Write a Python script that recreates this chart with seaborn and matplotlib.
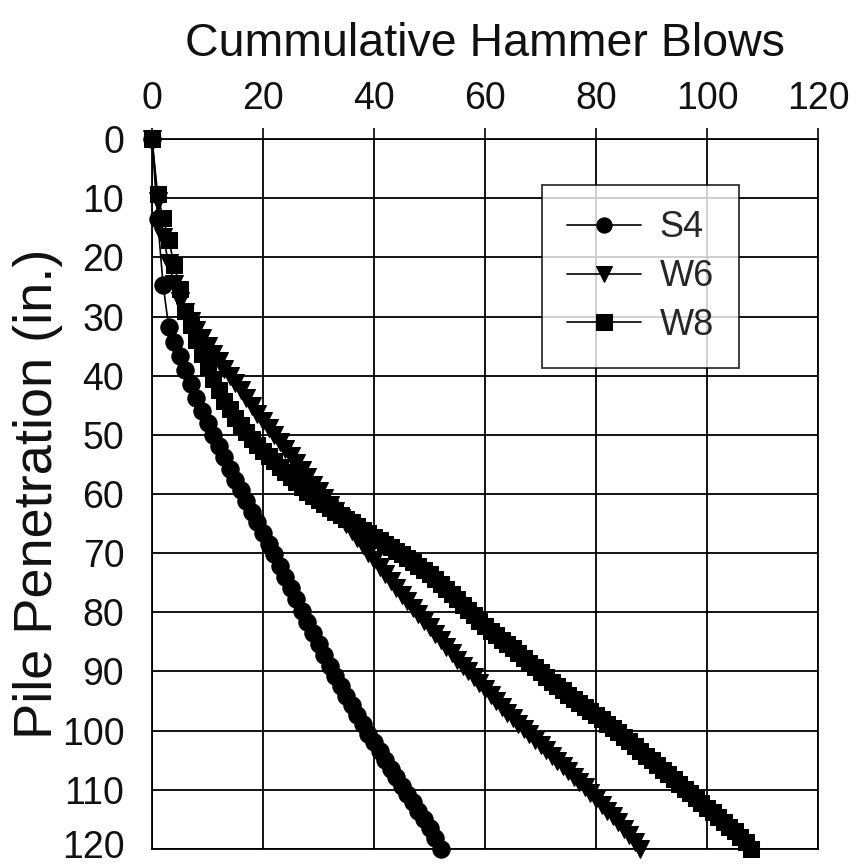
import numpy as np
import pandas as pd
import matplotlib
matplotlib.use("Agg")
import matplotlib.pyplot as plt
import matplotlib.transforms as mtransforms
import seaborn as sns

# ---- data: penetration (in.) after each cumulative hammer blow ----
s4_depth = [0, 13.5, 24.7, 31.7, 34.3, 36.6, 39.0, 41.4, 43.7, 45.9, 48.0, 50.0,
            51.9, 53.8, 55.7, 57.6, 59.4, 61.2, 63.0, 64.8, 66.6, 68.4, 70.2, 72.1,
            74.0, 75.9, 77.8, 79.7, 81.6, 83.5, 85.4, 87.2, 89.0, 90.8, 92.5, 94.1,
            95.7, 97.3, 98.9, 100.5, 102.0, 103.5, 105.0, 106.5, 107.9, 109.3, 110.7,
            112.1, 113.6, 115.0, 116.5, 118.2, 120.0]

w6_depth = [0, 10.5, 16.5, 21.0, 24.5, 27.3, 29.2, 30.8, 32.3, 33.7, 35.0, 36.3,
            37.6, 38.8, 40.0, 41.2, 42.5, 43.8, 45.1, 46.4, 47.6, 48.8, 50.0, 51.2,
            52.4, 53.6, 54.8, 56.0, 57.2, 58.4, 59.5, 60.6, 61.8, 62.9, 64.0, 65.1,
            66.3, 67.5, 68.7, 69.9, 71.1, 72.3, 73.5, 74.7, 75.9, 77.0, 78.1, 79.2,
            80.3, 81.4, 82.5, 83.6, 84.7, 85.8, 86.9, 88.0, 89.0, 90.0, 91.0, 92.0,
            93.0, 94.0, 95.0, 96.0, 97.0, 97.9, 98.8, 99.7, 100.6, 101.5, 102.4,
            103.3, 104.2, 105.1, 106.0, 106.9, 107.8, 108.7, 109.6, 110.5, 111.5,
            112.5, 113.5, 114.5, 115.5, 116.6, 117.7, 118.9, 120.0]

w8_depth = [0, 9.3, 13.4, 17.0, 21.3, 25.3, 29.0, 31.5, 34.0, 36.3, 38.5, 40.6,
            42.5, 44.2, 45.7, 47.1, 48.4, 49.6, 50.7, 51.7, 52.7, 53.6, 54.5, 55.4,
            56.3, 57.2, 58.0, 58.8, 59.6, 60.3, 61.0, 61.7, 62.4, 63.0, 63.6, 64.2,
            64.8, 65.4, 66.0, 66.6, 67.2, 67.8, 68.4, 69.0, 69.6, 70.2, 70.8, 71.5,
            72.2, 72.9, 73.6, 74.4, 75.2, 76.0, 76.9, 77.8, 78.7, 79.6, 80.5, 81.4,
            82.3, 83.2, 83.9, 84.6, 85.3, 86.1, 86.9, 87.7, 88.5, 89.3, 90.1, 90.9,
            91.7, 92.5, 93.2, 93.9, 94.6, 95.3, 96.0, 96.7, 97.4, 98.1, 98.8, 99.5,
            100.2, 101.0, 101.8, 102.6, 103.4, 104.2, 105.0, 105.8, 106.6, 107.4,
            108.2, 109.0, 109.8, 110.6, 111.4, 112.2, 113.0, 113.8, 114.6, 115.4,
            116.2, 117.0, 117.9, 118.9, 120.0]

series_names = ["S4", "W6", "W8"]
x_ticks = [0, 20, 40, 60, 80, 100, 120]
y_ticks = [0, 10, 20, 30, 40, 50, 60, 70, 80, 90, 100, 110, 120]

frames = []
for name, depth in zip(series_names, [s4_depth, w6_depth, w8_depth]):
    frames.append(pd.DataFrame({"pile": name,
                                "blows": list(range(len(depth))),
                                "depth": depth}))
df = pd.concat(frames, ignore_index=True)

sns.set_theme(style="white")
plt.rcParams["font.family"] = ["Liberation Sans", "DejaVu Sans"]

fig = plt.figure(figsize=(8.57, 8.65), dpi=100)
ax = fig.add_axes([0.1774, 0.0185, 0.7771, 0.8208])

sns.lineplot(data=df, x="blows", y="depth", hue="pile", style="pile",
             markers={"S4": "o", "W6": "v", "W8": "s"}, dashes=False,
             palette={"S4": "black", "W6": "black", "W8": "black"},
             sort=False, estimator=None, markersize=12, linewidth=1.2,
             markeredgecolor="black", ax=ax, clip_on=False, legend=True)

msizes = {"S4": 12.5, "W6": 13.5, "W8": 11.5}
for line, name in zip(ax.lines[:3], series_names):
    line.set_markersize(msizes[name])

ax.set_xlim(0, 120)
ax.set_ylim(120, 0)
ax.set_xticks(x_ticks)
ax.set_yticks(y_ticks)
ax.xaxis.tick_top()
ax.xaxis.set_label_position("top")
ax.grid(True, color="black", linewidth=1.3)
ax.set_axisbelow(True)
for sp in ax.spines.values():
    sp.set_color("black")
    sp.set_linewidth(1.3)
ax.tick_params(axis="both", which="both", direction="out", length=8,
               width=1.2, color="black", labelsize=27, labelcolor="#111111")
ax.tick_params(axis="x", pad=8)
ax.tick_params(axis="y", pad=12)

# keep the bottom tick label inside the canvas
ylabels = ax.get_yticklabels()
ylabels[-1].set_transform(ylabels[-1].get_transform() +
                          mtransforms.ScaledTranslation(0, 5 / 100, fig.dpi_scale_trans))

ax.set_xlabel("Cummulative Hammer Blows", fontsize=33.5, labelpad=18, color="#111111")
ax.set_ylabel("Pile Penetration (in.)", fontsize=39, labelpad=-1, color="#111111")

leg = ax.legend(title=None, loc="upper left", bbox_to_anchor=(0.5856, 0.935),
                fontsize=26, frameon=True, fancybox=False, shadow=False,
                handlelength=2.05, handletextpad=0.5, labelspacing=0.38,
                borderpad=0.7, borderaxespad=0)
leg.get_frame().set_edgecolor("black")
leg.get_frame().set_linewidth(1.3)
for h in leg.legend_handles:
    h.set_markersize(11)
    h.set_linewidth(1.2)

fig.savefig("out.png", dpi=100, facecolor="white")
